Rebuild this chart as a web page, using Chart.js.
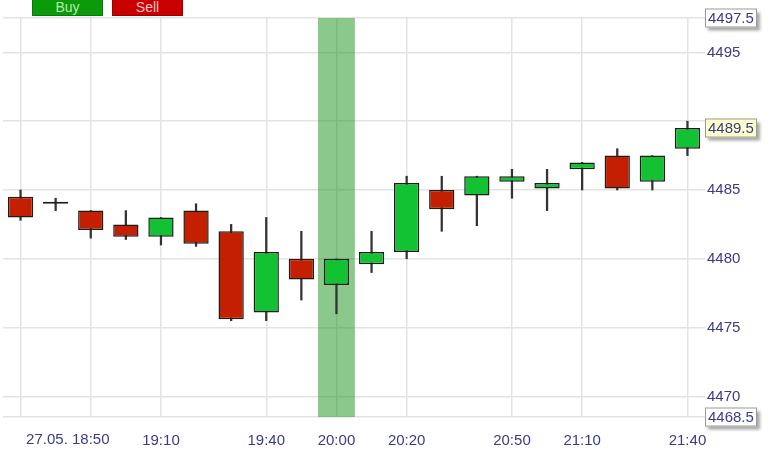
<!DOCTYPE html>
<html lang="en">
<head>
  <meta charset="UTF-8" />
  <title>Candles 27.05.</title>
  <script src="https://cdn.jsdelivr.net/npm/chart.js"></script>
  <style>
    body { margin: 0; background: #fff; font-family: "Liberation Sans", Arial, sans-serif; }
    #wrap { position: relative; width: 776px; height: 460px; }
    .btn { position: absolute; top: -2px; width: 71px; height: 18px; font-size: 14px;
           line-height: 17px; text-align: center; box-sizing: border-box; z-index: 2; }
    #buy { left: 32px; background: #0a9a0a; color: #b4ecae; border: 1px solid #087808; }
    #sell { left: 112px; background: #c80000; color: #ffc6c6; border: 1px solid #9a0000; }
  </style>
</head>
<body>
  <div id="wrap">
    <div id="buy" class="btn">Buy</div>
    <div id="sell" class="btn">Sell</div>
    <canvas id="chart"></canvas>
  </div>

  <script>
    // 10 minute candles, 27.05.
    const times  = ['18:30','18:40','18:50','19:00','19:10','19:20','19:30','19:40','19:50','20:00',
                    '20:10','20:20','20:30','20:40','20:50','21:00','21:10','21:20','21:30','21:40'];
    const opens  = [4484.5, 4484, 4483.5, 4482.5, 4481.6, 4483.5, 4482, 4476.1, 4480, 4478.1,
                    4479.6, 4480.5, 4485, 4484.6, 4485.6, 4485.1, 4486.5, 4487.5, 4485.6, 4488];
    const highs  = [4485, 4484.4, 4483.5, 4483.5, 4483, 4484, 4482.5, 4483, 4482, 4480,
                    4482, 4486, 4486, 4486, 4486.5, 4486.5, 4487, 4488, 4487.5, 4490];
    const lows   = [4482.8, 4483.5, 4481.5, 4481.4, 4481, 4480.9, 4475.5, 4475.5, 4477, 4476,
                    4479, 4480, 4482, 4482.4, 4484.4, 4483.5, 4485, 4485, 4485, 4487.5];
    const closes = [4483, 4484, 4482.1, 4481.6, 4483, 4481.1, 4475.6, 4480.5, 4478.5, 4480,
                    4480.5, 4485.5, 4483.6, 4486, 4486, 4485.5, 4487, 4485.1, 4487.5, 4489.5];

    const xTickLabels = ['', '', '27.05. 18:50', '', '19:10', '', '', '19:40', '', '20:00',
                         '', '20:20', '', '', '20:50', '', '21:10', '', '', '21:40'];
    const gridAt = ['18:30','18:50','19:10','19:40','20:00','20:20','20:50','21:10','21:40'];
    const highlightTime = '20:00';

    const yTicks = [4468.5, 4470, 4475, 4480, 4485, 4490, 4495, 4497.5];
    const yMin = 4468.5, yMax = 4497.5;
    const lastPrice = closes[closes.length - 1];
    const tagValues = [yMax, lastPrice, yMin];

    const UP = '#12c232', DOWN = '#c42000', LINE = '#1c1c1c', TEXT = '#3b3b8c', GRID = '#e3e3e3';
    const FONT = '"Liberation Sans", Arial, sans-serif';

    // price tags on the right axis + the date label on the x axis
    const extras = {
      id: 'extras',
      afterDraw(chart) {
        const ctx = chart.ctx, ys = chart.scales.y, xs = chart.scales.x;
        ctx.save();
        ctx.font = '15px ' + FONT;
        tagValues.forEach(v => {
          const y = Math.round(ys.getPixelForValue(v));
          const x = ys.left;
          ctx.save();
          ctx.shadowColor = 'rgba(0,0,0,0.35)';
          ctx.shadowBlur = 3;
          ctx.shadowOffsetX = 3;
          ctx.shadowOffsetY = 3;
          ctx.fillStyle = v === lastPrice ? '#ffffcc' : '#ffffff';
          ctx.fillRect(x, y - 9.5, 52, 19);
          ctx.restore();
          ctx.strokeStyle = '#9a9a9a';
          ctx.lineWidth = 1;
          ctx.strokeRect(x + 0.5, y - 9, 51, 18);
          ctx.fillStyle = TEXT;
          ctx.textBaseline = 'middle';
          ctx.textAlign = 'left';
          ctx.fillText(v.toFixed(1), x + 3, y + 1);
        });
        // first x label carries the date, right-aligned on its time
        const i = xTickLabels.findIndex(l => l.includes(' '));
        if (i >= 0) {
          const label = xTickLabels[i];
          const timePart = label.split(' ').pop();
          const px = xs.getPixelForValue(i) + ctx.measureText(timePart).width / 2;
          ctx.textAlign = 'right';
          ctx.textBaseline = 'middle';
          ctx.fillStyle = TEXT;
          ctx.fillText(label, px, xs.top + 23);
        }
        ctx.restore();
      }
    };

    new Chart(document.getElementById('chart'), {
      type: 'bar',
      data: {
        labels: times,
        datasets: [
          {
            label: 'body',
            data: opens.map((o, i) => [o, closes[i]]),
            backgroundColor: ctx => closes[ctx.dataIndex] >= opens[ctx.dataIndex] ? UP : DOWN,
            borderColor: LINE,
            borderWidth: 1.5,
            borderSkipped: false,
            barPercentage: 0.72,
            categoryPercentage: 1,
            minBarLength: 2,
            grouped: false,
            order: 0
          },
          {
            label: 'wick',
            data: lows.map((l, i) => [l, highs[i]]),
            backgroundColor: '#333333',
            barThickness: 1.6,
            grouped: false,
            order: 1
          },
          {
            label: 'marker',
            data: times.map(t => t === highlightTime ? [yMin, yMax] : null),
            backgroundColor: 'rgba(24,145,24,0.5)',
            barPercentage: 1,
            categoryPercentage: 1.05,
            grouped: false,
            order: 2
          }
        ]
      },
      options: {
        responsive: true,
        maintainAspectRatio: false,
        animation: false,
        layout: { padding: { top: 18, left: 3, right: 0, bottom: 0 } },
        plugins: { legend: { display: false }, tooltip: { enabled: false } },
        scales: {
          x: {
            offset: true,
            afterFit: s => { s.height = 43; },
            border: { display: false },
            grid: {
              offset: false,
              drawTicks: false,
              lineWidth: 1.5,
              color: ctx => gridAt.includes(times[ctx.index]) ? GRID : 'rgba(0,0,0,0)'
            },
            ticks: {
              autoSkip: false,
              maxRotation: 0,
              padding: 15,
              color: TEXT,
              font: { family: FONT, size: 15 },
              callback: (v, i) => xTickLabels[i].includes(' ') ? '' : xTickLabels[i]
            }
          },
          y: {
            position: 'right',
            min: yMin,
            max: yMax,
            afterBuildTicks: s => { s.ticks = yTicks.map(v => ({ value: v })); },
            afterFit: s => { s.width = 71; },
            border: { display: false },
            grid: { drawTicks: false, lineWidth: 1.5, color: GRID },
            ticks: {
              padding: 2,
              color: TEXT,
              font: { family: FONT, size: 15 },
              callback: v => tagValues.some(t => Math.abs(t - v) < 1) ? '' : v
            }
          }
        }
      },
      plugins: [extras]
    });
  </script>
</body>
</html>
